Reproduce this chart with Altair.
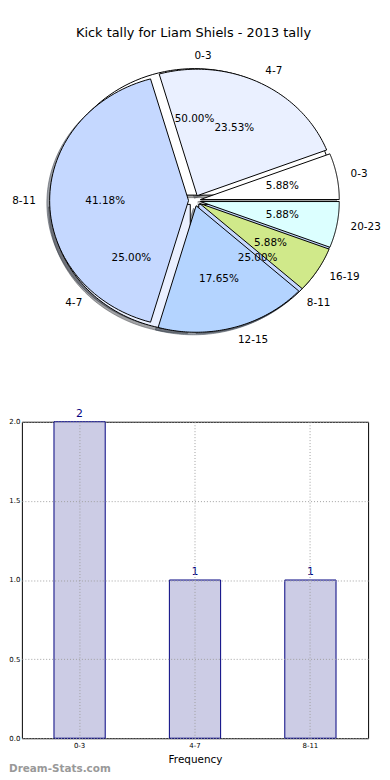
import altair as alt
import pandas as pd

FONT = "DejaVu Sans"
TITLE = "Kick tally for Liam Shiels - 2013 tally"

# first pie (17 kicks) - drawn on top
pie_a_labels = ["0-3", "4-7", "8-11", "12-15", "16-19", "20-23"]
pie_a_values = [1, 4, 7, 3, 1, 1]
pie_a_colors = ["#ffffff", "#eaf0ff", "#c5d8ff", "#b4d4ff", "#d0e98a", "#dcffff"]

# second pie (4 kicks) - drawn underneath
pie_b_labels = ["0-3", "4-7", "8-11"]
pie_b_values = [2, 1, 1]
pie_b_colors = ["#ffffff", "#eaf0ff", "#c5d8ff"]

# bar chart
bar_categories = ["0-3", "4-7", "8-11"]
bar_values = [2, 1, 1]
y_ticks = [0.0, 0.5, 1.0, 1.5, 2.0]

rows = []
for pie, labs, vals, cols in (("b", pie_b_labels, pie_b_values, pie_b_colors),
                              ("a", pie_a_labels, pie_a_values, pie_a_colors)):
    for i, (l, v, c) in enumerate(zip(labs, vals, cols)):
        rows.append({"pie": pie, "idx": i, "wid": f"{pie}{i}", "label": l,
                     "value": v, "color": c})
pie_df = pd.DataFrame(rows)

EXPLODE = 0.043
NPTS = 72
SHADOW = 0.02

PIE_W, PIE_H = 349, 380
UX, UY = 140.0, 127.5
CX, CY = 174, 190
xdom = [-CX / UX, (PIE_W - CX) / UX]
ydom = [-(PIE_H - CY) / UY, CY / UY]
xs = alt.Scale(domain=xdom, nice=False, zero=False)
ys = alt.Scale(domain=ydom, nice=False, zero=False)

wedges = (
    alt.Chart(pie_df)
    .transform_joinaggregate(total="sum(value)", groupby=["pie"])
    .transform_window(cum="sum(value)", sort=[alt.SortField("idx")], groupby=["pie"])
    .transform_calculate(
        a0="(datum.cum - datum.value) / datum.total * 2 * PI",
        a1="datum.cum / datum.total * 2 * PI",
    )
    .transform_calculate(mid="(datum.a0 + datum.a1) / 2")
)

poly = (
    wedges
    .transform_calculate(k=f"sequence(0, {NPTS + 3})")
    .transform_flatten(["k"])
    .transform_calculate(
        onarc=f"datum.k >= 1 && datum.k <= {NPTS + 1}",
        ang=f"datum.a0 + (datum.k - 1) / {NPTS} * (datum.a1 - datum.a0)",
    )
    .transform_calculate(
        px=f"{EXPLODE} * cos(datum.mid) + (datum.onarc ? cos(datum.ang) : 0)",
        py=f"{EXPLODE} * sin(datum.mid) + (datum.onarc ? sin(datum.ang) : 0)",
    )
)

shadow = (
    poly.transform_calculate(
        sx=f"datum.px - {SHADOW}",
        sy=f"datum.py - {SHADOW}",
        scol="'rgb(' + round(rgb(datum.color).r * 0.3) + ',' + round(rgb(datum.color).g * 0.3) + ',' + round(rgb(datum.color).b * 0.3) + ')'",
    )
    .mark_line(fillOpacity=0.5, strokeOpacity=0.5, strokeWidth=1)
    .encode(
        x=alt.X("sx:Q", scale=xs, axis=None),
        y=alt.Y("sy:Q", scale=ys, axis=None),
        detail="wid:N",
        order="k:Q",
        fill=alt.Fill("scol:N", scale=None),
        stroke=alt.Stroke("scol:N", scale=None),
    )
)


def pie_layer(which):
    return (
        poly.transform_filter(f"datum.pie == '{which}'")
        .mark_line(stroke="black", strokeWidth=1, strokeJoin="miter")
        .encode(
            x=alt.X("px:Q", scale=xs, axis=None),
            y=alt.Y("py:Q", scale=ys, axis=None),
            detail="wid:N",
            order="k:Q",
            fill=alt.Fill("color:N", scale=None),
        )
    )


pie_b = pie_layer("b")
pie_a = pie_layer("a")

labels = wedges.transform_calculate(
    lx=f"({EXPLODE} + 1.1) * cos(datum.mid)",
    ly=f"({EXPLODE} + 1.1) * sin(datum.mid)",
)
lab_r = labels.transform_filter("datum.lx > 0").mark_text(
    align="left", baseline="middle", fontSize=10.5, font=FONT, color="black"
).encode(
    x=alt.X("lx:Q", scale=xs, axis=None),
    y=alt.Y("ly:Q", scale=ys, axis=None),
    text="label:N",
)
lab_l = labels.transform_filter("datum.lx <= 0").mark_text(
    align="right", baseline="middle", fontSize=10.5, font=FONT, color="black"
).encode(
    x=alt.X("lx:Q", scale=xs, axis=None),
    y=alt.Y("ly:Q", scale=ys, axis=None),
    text="label:N",
)
pct = wedges.transform_calculate(
    tx=f"({EXPLODE} + 0.6) * cos(datum.mid)",
    ty=f"({EXPLODE} + 0.6) * sin(datum.mid)",
    ptxt="format(datum.value / datum.total * 100, '.2f') + '%'",
).mark_text(
    align="center", baseline="middle", fontSize=10.5, font=FONT, color="black"
).encode(
    x=alt.X("tx:Q", scale=xs, axis=None),
    y=alt.Y("ty:Q", scale=ys, axis=None),
    text="ptxt:N",
)

title = alt.Chart(pd.DataFrame({"t": [TITLE]})).mark_text(
    fontSize=13, font=FONT, baseline="middle", align="center", color="black"
).encode(x=alt.value(CX - 1), y=alt.value(21), text="t:N")

pie_chart = alt.layer(shadow, pie_b, pie_a, pct, lab_r, lab_l, title).properties(
    width=PIE_W, height=PIE_H, view=alt.ViewBackground(stroke="transparent")
)

bar_df = pd.DataFrame({"cat": bar_categories, "count": bar_values})
grid_style = dict(grid=True, gridDash=[1, 2], gridColor="#a0a0a0", gridWidth=1,
                  domain=False, ticks=False, zindex=1)
bx = alt.X(
    "cat:N", sort=bar_categories,
    scale=alt.Scale(paddingInner=0.556, paddingOuter=0.278),
    axis=alt.Axis(title="Frequency", labelAngle=0, labelFontSize=7, titleFontSize=10.5,
                  titleFontWeight="normal", labelPadding=3, titlePadding=6,
                  bandPosition=0.5, **grid_style),
)
by = alt.Y(
    "count:Q", scale=alt.Scale(domain=[0, 2], nice=False),
    axis=alt.Axis(title=None, values=y_ticks, format=".1f", labelFontSize=7,
                  labelPadding=2, **grid_style),
)
bars = alt.Chart(bar_df).mark_bar(fill="#ccccE5", stroke="#000080", strokeWidth=1).encode(
    x=bx, y=by
)
vals = alt.Chart(bar_df).mark_text(
    baseline="bottom", dy=-3, color="#000080", fontSize=11, font=FONT
).encode(x=alt.X("cat:N", sort=bar_categories), y=alt.Y("count:Q"), text="count:Q")
wm = alt.Chart(pd.DataFrame({"t": ["Dream-Stats.com"]})).mark_text(
    align="left", baseline="middle", fontSize=10.5, color="#999999", font=FONT,
    fontWeight=600
).encode(x=alt.value(-13), y=alt.value(350), text="t:N")

bar_chart = alt.layer(bars, vals, wm).properties(
    width=349, height=319, view=alt.ViewBackground(stroke="black", strokeWidth=1)
)

chart = (
    alt.vconcat(pie_chart, bar_chart, spacing=33, bounds="flush")
    .properties(padding=0)
    .configure(font=FONT)
)

chart.save("out.html", embed_options={"renderer": "svg", "actions": False})
